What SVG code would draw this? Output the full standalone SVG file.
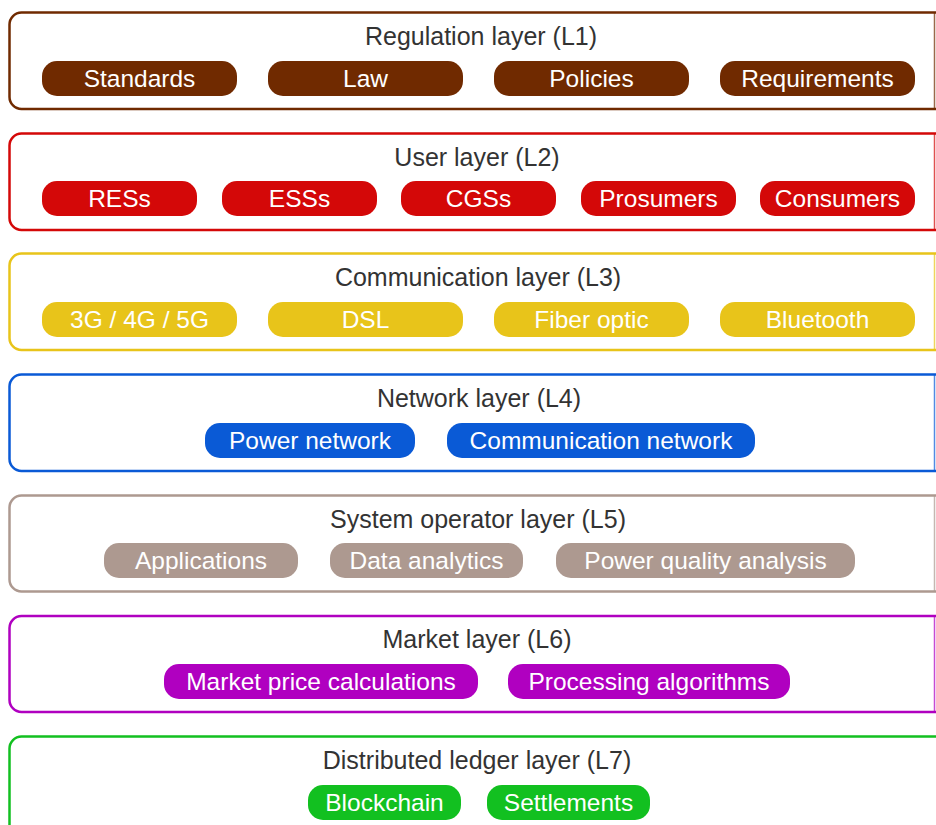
<svg xmlns="http://www.w3.org/2000/svg" width="936" height="825" viewBox="0 0 936 825">
<style>
.box{fill:#fff;stroke-width:2.5}
.edge{stroke-width:1.5;opacity:0.7}
.title{font-family:"Liberation Sans",Arial,sans-serif;font-size:25px;fill:#333;text-anchor:middle}
.pt{font-family:"Liberation Sans",Arial,sans-serif;font-size:24.5px;fill:#fff;text-anchor:middle}
.l1 .box,.l1 .edge{stroke:#702a00}.l1 .pill{fill:#702a00}
.l2 .box,.l2 .edge{stroke:#d40808}.l2 .pill{fill:#d40808}
.l3 .box,.l3 .edge{stroke:#e8c41a}.l3 .pill{fill:#e8c41a}
.l4 .box,.l4 .edge{stroke:#0a5ad6}.l4 .pill{fill:#0a5ad6}
.l5 .box,.l5 .edge{stroke:#ad9990}.l5 .pill{fill:#ad9990}
.l6 .box,.l6 .edge{stroke:#b000c0}.l6 .pill{fill:#b000c0}
.l7 .box,.l7 .edge{stroke:#12c020}.l7 .pill{fill:#12c020}
</style>
<rect width="936" height="825" fill="#fff"/>
<g id="L1" class="l1">
<rect class="box" x="9.5" y="12.5" width="960" height="96.5" rx="12"/>
<line class="edge" x1="934.5" y1="12.5" x2="934.5" y2="109"/>
<text class="title" x="481" y="45">Regulation layer (L1)</text>
<g id="n-standards"><rect class="pill" x="42" y="61" width="195" height="35" rx="15"/><text class="pt" x="139.5" y="87">Standards</text></g>
<g id="n-law"><rect class="pill" x="268" y="61" width="195" height="35" rx="15"/><text class="pt" x="365.5" y="87">Law</text></g>
<g id="n-policies"><rect class="pill" x="494" y="61" width="195" height="35" rx="15"/><text class="pt" x="591.5" y="87">Policies</text></g>
<g id="n-requirements"><rect class="pill" x="720" y="61" width="195" height="35" rx="15"/><text class="pt" x="817.5" y="87">Requirements</text></g>
</g>
<g id="L2" class="l2">
<rect class="box" x="9.5" y="133.5" width="960" height="96.5" rx="12"/>
<line class="edge" x1="934.5" y1="133.5" x2="934.5" y2="230"/>
<text class="title" x="477" y="166">User layer (L2)</text>
<g id="n-ress"><rect class="pill" x="42" y="181" width="155" height="35" rx="15"/><text class="pt" x="119.5" y="207">RESs</text></g>
<g id="n-esss"><rect class="pill" x="222" y="181" width="155" height="35" rx="15"/><text class="pt" x="299.5" y="207">ESSs</text></g>
<g id="n-cgss"><rect class="pill" x="401" y="181" width="155" height="35" rx="15"/><text class="pt" x="478.5" y="207">CGSs</text></g>
<g id="n-prosumers"><rect class="pill" x="581" y="181" width="155" height="35" rx="15"/><text class="pt" x="658.5" y="207">Prosumers</text></g>
<g id="n-consumers"><rect class="pill" x="760" y="181" width="155" height="35" rx="15"/><text class="pt" x="837.5" y="207">Consumers</text></g>
</g>
<g id="L3" class="l3">
<rect class="box" x="9.5" y="253.5" width="960" height="96.5" rx="12"/>
<line class="edge" x1="934.5" y1="253.5" x2="934.5" y2="350"/>
<text class="title" x="478" y="286">Communication layer (L3)</text>
<g id="n-3g"><rect class="pill" x="42" y="302" width="195" height="35" rx="15"/><text class="pt" x="139.5" y="328">3G / 4G / 5G</text></g>
<g id="n-dsl"><rect class="pill" x="268" y="302" width="195" height="35" rx="15"/><text class="pt" x="365.5" y="328">DSL</text></g>
<g id="n-fiber"><rect class="pill" x="494" y="302" width="195" height="35" rx="15"/><text class="pt" x="591.5" y="328">Fiber optic</text></g>
<g id="n-bluetooth"><rect class="pill" x="720" y="302" width="195" height="35" rx="15"/><text class="pt" x="817.5" y="328">Bluetooth</text></g>
</g>
<g id="L4" class="l4">
<rect class="box" x="9.5" y="374.5" width="960" height="96.5" rx="12"/>
<line class="edge" x1="934.5" y1="374.5" x2="934.5" y2="471"/>
<text class="title" x="479" y="407">Network layer (L4)</text>
<g id="n-power"><rect class="pill" x="205" y="423" width="210" height="35" rx="15"/><text class="pt" x="310" y="449">Power network</text></g>
<g id="n-comm"><rect class="pill" x="447" y="423" width="308" height="35" rx="15"/><text class="pt" x="601" y="449">Communication network</text></g>
</g>
<g id="L5" class="l5">
<rect class="box" x="9.5" y="495.5" width="960" height="96" rx="12"/>
<line class="edge" x1="934.5" y1="495.5" x2="934.5" y2="591.5"/>
<text class="title" x="478" y="528">System operator layer (L5)</text>
<g id="n-apps"><rect class="pill" x="104" y="543" width="194" height="35" rx="15"/><text class="pt" x="201" y="569">Applications</text></g>
<g id="n-data"><rect class="pill" x="330" y="543" width="193" height="35" rx="15"/><text class="pt" x="426.5" y="569">Data analytics</text></g>
<g id="n-pqa"><rect class="pill" x="556" y="543" width="299" height="35" rx="15"/><text class="pt" x="705.5" y="569">Power quality analysis</text></g>
</g>
<g id="L6" class="l6">
<rect class="box" x="9.5" y="616" width="960" height="96" rx="12"/>
<line class="edge" x1="934.5" y1="616" x2="934.5" y2="712"/>
<text class="title" x="477" y="648">Market layer (L6)</text>
<g id="n-market"><rect class="pill" x="164" y="664" width="314" height="35" rx="15"/><text class="pt" x="321" y="690">Market price calculations</text></g>
<g id="n-proc"><rect class="pill" x="508" y="664" width="282" height="35" rx="15"/><text class="pt" x="649" y="690">Processing algorithms</text></g>
</g>
<g id="L7" class="l7">
<rect class="box" x="9.5" y="736.5" width="960" height="110" rx="12"/>
<text class="title" x="477" y="769">Distributed ledger layer (L7)</text>
<g id="n-blockchain"><rect class="pill" x="308" y="785" width="153" height="35" rx="15"/><text class="pt" x="384.5" y="811">Blockchain</text></g>
<g id="n-settlements"><rect class="pill" x="487" y="785" width="163" height="35" rx="15"/><text class="pt" x="568.5" y="811">Settlements</text></g>
</g>
<g id="connectors"/>
</svg>
